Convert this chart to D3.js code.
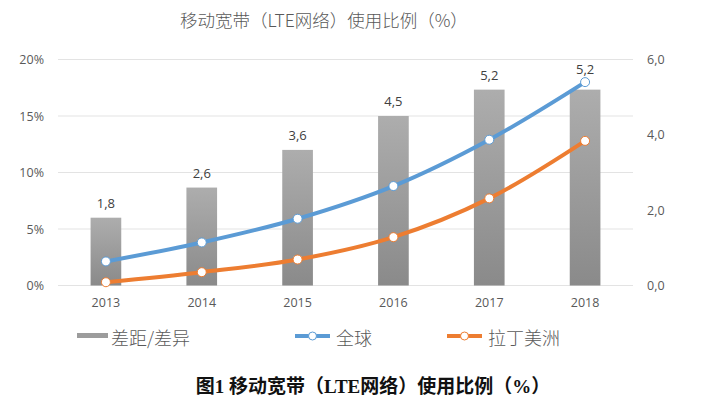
<!DOCTYPE html>
<html>
<head>
<meta charset="utf-8">
<script src="https://cdn.jsdelivr.net/npm/d3@7/dist/d3.min.js"></script>
<style>
  body { margin: 0; background: #fff; }
  svg { display: block; }
  .axis text { font-family: "Open Sans", "Noto Sans", sans-serif; font-size: 12.5px; fill: #595959; }
  .axis path, .axis line { display: none; }
  .grid line { stroke: #e3e3e3; stroke-width: 1; }
  .bar-label { font-family: "Open Sans", "Noto Sans", sans-serif; font-size: 13px; fill: #404040; }
</style>
</head>
<body>
<div id="chart"></div>
<script>
// data
var years = ["2013", "2014", "2015", "2016", "2017", "2018"];
var gapValues = [1.8, 2.6, 3.6, 4.5, 5.2, 5.2];          // bars, right axis
var globalValues = [0.0213, 0.0381, 0.0591, 0.088, 0.129, 0.180];   // 全球
var latamValues = [0.0029, 0.0118, 0.023, 0.0428, 0.0771, 0.128];   // 拉丁美洲
var leftTicks = [0, 0.05, 0.10, 0.15, 0.20];
var rightTicks = [0, 2, 4, 6];

var width = 718, height = 399;
var plot = {left: 58, right: 633, top: 59.5, bottom: 285.5};

var svg = d3.select("#chart").append("svg")
    .attr("width", width)
    .attr("height", height);

var defs = svg.append("defs");
var grad = defs.append("linearGradient")
    .attr("id", "barGrad")
    .attr("x1", 0).attr("y1", 0).attr("x2", 0).attr("y2", 1);
grad.append("stop").attr("offset", "0%").attr("stop-color", "#adadad");
grad.append("stop").attr("offset", "100%").attr("stop-color", "#8a8a8a");

// comma decimal format (5,2)
var locale = d3.formatLocale({decimal: ",", thousands: ".", grouping: [3], currency: ["", ""]});
var fmt1 = locale.format(".1f");

var xScale = d3.scaleBand()
    .domain(years)
    .range([plot.left, plot.right])
    .paddingInner(0.68)
    .paddingOuter(0.34);

var yLeft = d3.scaleLinear()
    .domain([0, 0.2])
    .range([plot.bottom, plot.top]);

var yRight = d3.scaleLinear()
    .domain([0, 6])
    .range([plot.bottom, plot.top]);

// title
svg.append("text")
    .attr("x", 324)
    .attr("y", 27)
    .attr("text-anchor", "middle")
    .style("font-family", "'Noto Sans CJK SC', sans-serif")
    .style("font-size", "17.5px")
    .style("font-weight", 300)
    .style("fill", "#595959")
    .text("移动宽带（LTE网络）使用比例（%）");

// gridlines
svg.append("g")
    .attr("class", "grid")
    .selectAll("line")
    .data(leftTicks)
  .enter().append("line")
    .attr("x1", plot.left)
    .attr("x2", plot.right)
    .attr("y1", function(d) { return yLeft(d); })
    .attr("y2", function(d) { return yLeft(d); });

// left axis
svg.append("g")
    .attr("class", "axis")
    .attr("transform", "translate(" + (plot.left + 1) + ",0)")
    .call(d3.axisLeft(yLeft).tickValues(leftTicks).tickFormat(d3.format(".0%")).tickSize(0).tickPadding(15));

// right axis
svg.append("g")
    .attr("class", "axis")
    .attr("transform", "translate(" + (plot.right) + ",0)")
    .call(d3.axisRight(yRight).tickValues(rightTicks).tickFormat(fmt1).tickSize(0).tickPadding(14));

// bottom axis
svg.append("g")
    .attr("class", "axis")
    .attr("transform", "translate(0," + plot.bottom + ")")
    .call(d3.axisBottom(xScale).tickSize(0).tickPadding(13));

// bars
svg.selectAll(".bar")
    .data(gapValues)
  .enter().append("rect")
    .attr("class", "bar")
    .attr("x", function(d, i) { return xScale(years[i]); })
    .attr("y", function(d) { return yRight(d); })
    .attr("width", xScale.bandwidth())
    .attr("height", function(d) { return yRight(0) - yRight(d); })
    .attr("fill", "url(#barGrad)");

// bar labels (pushed up if the line marker sits above the bar)
svg.selectAll(".bar-label")
    .data(gapValues)
  .enter().append("text")
    .attr("class", "bar-label")
    .attr("x", function(d, i) { return xScale(years[i]) + xScale.bandwidth() / 2; })
    .attr("y", function(d, i) {
      var yb = yRight(d) - 10;
      var ym = yLeft(globalValues[i]);
      if (ym < yRight(d)) yb = Math.min(yb, ym - 8);
      return yb;
    })
    .attr("text-anchor", "middle")
    .text(function(d) { return fmt1(d); });

var cx = function(d, i) { return xScale(years[i]) + xScale.bandwidth() / 2; };

var line = d3.line()
    .x(cx)
    .y(function(d) { return yLeft(d); })
    .curve(d3.curveCatmullRom.alpha(0.5));

var series = [
  {values: latamValues, color: "#ED7D31"},
  {values: globalValues, color: "#5B9BD5"}
];

series.forEach(function(s) {
  svg.append("path")
      .datum(s.values)
      .attr("fill", "none")
      .attr("stroke", s.color)
      .attr("stroke-width", 4)
      .attr("stroke-linecap", "round")
      .attr("d", line);

  svg.selectAll(null)
      .data(s.values)
    .enter().append("circle")
      .attr("cx", cx)
      .attr("cy", function(d) { return yLeft(d); })
      .attr("r", 4.5)
      .attr("fill", "#fff")
      .attr("stroke", s.color)
      .attr("stroke-width", 1);
});

// legend
var legend = svg.append("g")
    .style("font-family", "'Noto Sans CJK SC', sans-serif")
    .style("font-size", "18px")
    .style("font-weight", 300)
    .style("fill", "#595959");

legend.append("rect")
    .attr("x", 77).attr("y", 333)
    .attr("width", 31).attr("height", 5)
    .attr("fill", "#9c9c9c");
legend.append("text").attr("x", 111).attr("y", 345).text("差距/差异");

[{x: 295, label: "全球", color: "#5B9BD5"}, {x: 447, label: "拉丁美洲", color: "#ED7D31"}].forEach(function(l) {
  legend.append("line")
      .attr("x1", l.x).attr("x2", l.x + 35)
      .attr("y1", 336).attr("y2", 336)
      .attr("stroke", l.color).attr("stroke-width", 4);
  legend.append("circle")
      .attr("cx", l.x + 17.5).attr("cy", 336).attr("r", 4)
      .attr("fill", "#fff").attr("stroke", l.color).attr("stroke-width", 1);
  legend.append("text").attr("x", l.x + 41).attr("y", 345).text(l.label);
});

// caption
svg.append("text")
    .attr("x", 373)
    .attr("y", 393)
    .attr("text-anchor", "middle")
    .style("font-family", "'Liberation Serif', 'Noto Sans CJK SC', serif")
    .style("font-size", "19px")
    .style("font-weight", "bold")
    .style("fill", "#111")
    .text("图1 移动宽带（LTE网络）使用比例（%）");
</script>
</body>
</html>
